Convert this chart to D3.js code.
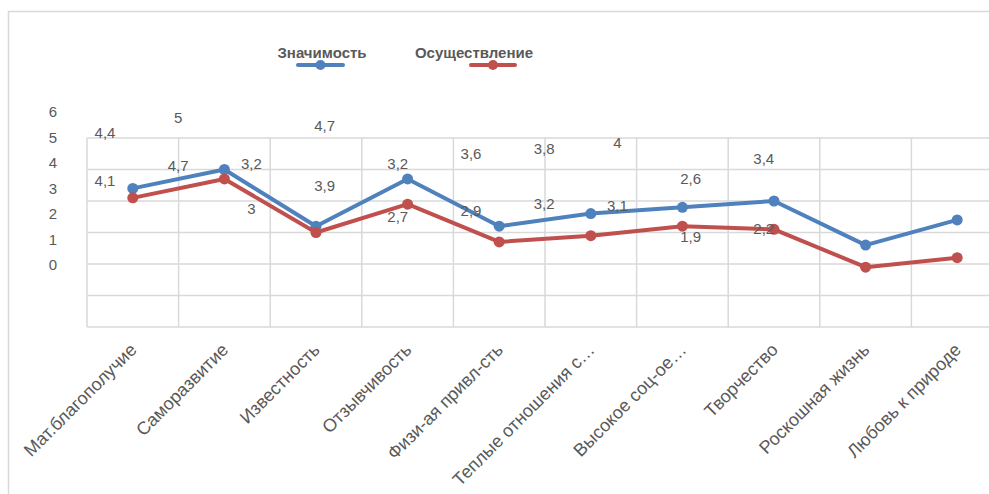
<!DOCTYPE html>
<html>
<head>
<meta charset="utf-8">
<script src="https://cdn.jsdelivr.net/npm/d3@7"></script>
<style>
  body { margin: 0; background: #fff; }
  text { font-family: "Liberation Sans", Arial, sans-serif; fill: #595959; }
</style>
</head>
<body>
<script>
// values
var categories = ['Мат.благополучие', 'Саморазвитие', 'Известность', 'Отзывчивость',
                  'Физи-ая привл-сть', 'Теплые отношения с…', 'Высокое соц-ое…',
                  'Творчество', 'Роскошная жизнь', 'Любовь к природе'];
var znachimost = [4.4, 5, 3.2, 4.7, 3.2, 3.6, 3.8, 4, 2.6, 3.4];
var osushestvlenie = [4.1, 4.7, 3, 3.9, 2.7, 2.9, 3.2, 3.1, 1.9, 2.2];
var yTicks = [0, 1, 2, 3, 4, 5, 6];
var seriesNames = ['Значимость', 'Осуществление'];
var colors = ['#4f81bd', '#c0504d'];

var W = 989, H = 494;

var svg = d3.select('body')
  .append('svg')
  .attr('width', W)
  .attr('height', H);

svg.append('rect')
  .attr('x', 8.5)
  .attr('y', 11.5)
  .attr('width', 1100)
  .attr('height', 600)
  .attr('fill', '#fff')
  .attr('stroke', '#d9d9d9')
  .attr('stroke-width', 1.5);

// plot area scales (lines + grid)
var x = d3.scaleBand().domain(categories).range([87, 1003]);
var y = d3.scaleLinear().domain([0, 6]).range([327, 138]);

// the axis numbers and data labels sit in a shifted layer
var xL = d3.scaleBand().domain(categories).range([68.4, 800.4]);
var yL = d3.scaleLinear().domain([0, 6]).range([265, 112]);

var grid = svg.append('g');
grid.selectAll('line.h')
  .data(yTicks)
  .join('line')
  .attr('class', 'h')
  .attr('x1', 87)
  .attr('x2', 1003)
  .attr('y1', d => y(d))
  .attr('y2', d => y(d))
  .attr('stroke', '#d9d9d9')
  .attr('stroke-width', 1.5);

grid.selectAll('line.v')
  .data(categories)
  .join('line')
  .attr('class', 'v')
  .attr('x1', d => x(d))
  .attr('x2', d => x(d))
  .attr('y1', y(6))
  .attr('y2', y(0))
  .attr('stroke', '#d9d9d9')
  .attr('stroke-width', 1.5);

// y axis numbers
svg.append('g')
  .selectAll('text')
  .data(yTicks)
  .join('text')
  .attr('x', 57)
  .attr('y', d => yL(d))
  .attr('dy', '0.36em')
  .attr('text-anchor', 'end')
  .style('font-size', '15px')
  .text(d => d);

// category labels
svg.append('g')
  .selectAll('text')
  .data(categories)
  .join('text')
  .attr('transform', d => 'translate(' + (x(d) + x.bandwidth() / 2 + 5) + ',351) rotate(-45)')
  .attr('text-anchor', 'end')
  .style('font-size', '18px')
  .text(d => d);

var series = [znachimost, osushestvlenie];
var line = d3.line()
  .x((d, i) => x(categories[i]) + x.bandwidth() / 2)
  .y(d => y(d));

series.forEach(function(vals, s) {
  var g = svg.append('g');
  g.append('path')
    .datum(vals)
    .attr('d', line)
    .attr('fill', 'none')
    .attr('stroke', colors[s])
    .attr('stroke-width', 4)
    .attr('stroke-linejoin', 'round');
  g.selectAll('circle')
    .data(vals)
    .join('circle')
    .attr('cx', (d, i) => x(categories[i]) + x.bandwidth() / 2)
    .attr('cy', d => y(d))
    .attr('r', 5.5)
    .attr('fill', colors[s]);
});

// data labels: blue above, red below
series.forEach(function(vals, s) {
  svg.append('g')
    .selectAll('text')
    .data(vals)
    .join('text')
    .attr('x', (d, i) => xL(categories[i]) + xL.bandwidth() / 2)
    .attr('y', d => yL(d) + (s == 0 ? -20 : 20))
    .attr('dy', '0.36em')
    .attr('text-anchor', 'middle')
    .style('font-size', '15px')
    .text(d => String(d).replace('.', ','));
});

// legend
var legendText = [322, 474];
var legendLine = [[298, 343], [471, 515]];
var legend = svg.append('g');
seriesNames.forEach(function(name, s) {
  legend.append('text')
    .attr('x', legendText[s])
    .attr('y', 58)
    .attr('text-anchor', 'middle')
    .style('font-size', '15px')
    .style('font-weight', 'bold')
    .text(name);
  legend.append('line')
    .attr('x1', legendLine[s][0])
    .attr('x2', legendLine[s][1])
    .attr('y1', 65)
    .attr('y2', 65)
    .attr('stroke', colors[s])
    .attr('stroke-width', 4)
    .attr('stroke-linecap', 'round');
  legend.append('circle')
    .attr('cx', (legendLine[s][0] + legendLine[s][1]) / 2)
    .attr('cy', 65)
    .attr('r', 5)
    .attr('fill', colors[s]);
});
</script>
</body>
</html>
